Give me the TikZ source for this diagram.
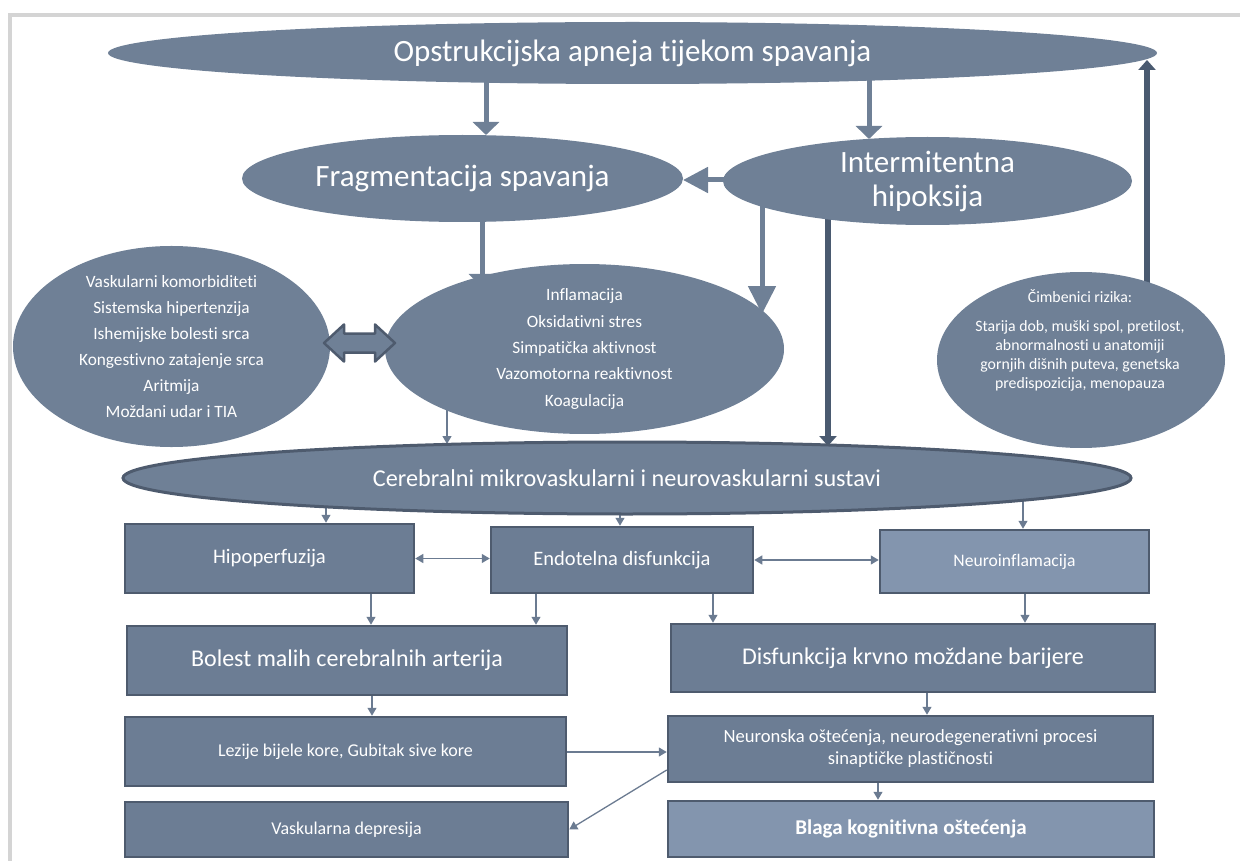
\documentclass[tikz,border=0pt]{standalone}
\usepackage{fontspec}
\setmainfont{Carlito}[Ligatures={NoCommon}]
\usetikzlibrary{arrows.meta,shapes.geometric,backgrounds}
\definecolor{ellC}{HTML}{6F8096}
\definecolor{boxC}{HTML}{6C7D94}
\definecolor{edgeC}{HTML}{4E5B6E}
\definecolor{lightC}{HTML}{8395AE}
\definecolor{darkC}{HTML}{4A5A70}
\definecolor{thinC}{HTML}{6B7B91}
\definecolor{frameC}{HTML}{D4D4D4}
\newcommand{\myfs}[2]{\fontsize{#1}{#2}\selectfont}
\begin{document}
\begin{tikzpicture}[x=1pt,y=-1pt,
  ell/.style={ellipse,fill=ellC,inner sep=0pt,text=white,align=center},
  box/.style={rectangle,fill=boxC,draw=edgeC,line width=2.5pt,inner sep=0pt,text=white,align=center},
  lbox/.style={box,fill=lightC},
  bigarr/.style={draw=ellC,line width=5pt,-{Triangle[width=26pt,length=13pt]}},
  bigarrl/.style={draw=ellC,line width=5pt,-{Triangle[width=27pt,length=28pt]}},
  bigarrh/.style={draw=ellC,line width=5pt,-{Triangle[width=25pt,length=25pt]}},
  darkarr/.style={draw=darkC,line width=5.5pt,-{Triangle[width=17pt,length=10pt]}},
  thin/.style={draw=thinC,line width=1.3pt,-{Triangle[width=9pt,length=8pt]}},
  dthin/.style={draw=thinC,line width=1.3pt,{Triangle[width=9pt,length=8pt]}-{Triangle[width=9pt,length=8pt]}},
  blockarr/.style={fill=ellC,draw=edgeC,line width=2.5pt,line join=round},
  frame/.style={draw=frameC,line width=4pt}
]
\useasboundingbox (0,0) rectangle (1240,861);

% ellipses
\node[ell,minimum width=1049pt,minimum height=62pt,font=\myfs{31}{36}] (top) at (632.5,53) {Opstrukcijska apneja tijekom spavanja};
\node[ell,minimum width=441pt,minimum height=87pt,font=\myfs{31}{36}] (frag) at (462.5,178.5) {Fragmentacija spavanja};
\node[ell,minimum width=409pt,minimum height=88pt,font=\myfs{31}{34}] (inter) at (927.5,181) {Intermitentna\\hipoksija};
\node[ell,minimum width=317pt,minimum height=173pt,font=\myfs{17.3}{26}] (left) at (171.5,346.5) {Vaskularni komorbiditeti\\Sistemska hipertenzija\\Ishemijske bolesti srca\\Kongestivno zatajenje srca\\Aritmija\\Moždani udar i TIA};
\node[ell,minimum width=399pt,minimum height=141pt,font=\myfs{17.3}{26.3}] (mid) at (584.5,349) {Inflamacija\\Oksidativni stres\\Simpatička aktivnost\\Vazomotorna reaktivnost\\Koagulacija};
\node[ell,minimum width=288pt,minimum height=176pt] (cim) at (1081,360) {};
\node[text=white,align=center,inner sep=0pt,font=\myfs{15.8}{18.7}] (cimt) at (1080,340) {Čimbenici rizika:\\[11pt]Starija dob, muški spol, pretilost,\\abnormalnosti u anatomiji\\gornjih dišnih puteva, genetska\\predispozicija, menopauza};
\node[ell,draw=edgeC,line width=3pt,minimum width=1008pt,minimum height=72pt,font=\myfs{24.2}{28}] (cer) at (627,478) {Cerebralni mikrovaskularni i neurovaskularni sustavi};

% boxes
\node[box,minimum width=289pt,minimum height=69pt,font=\myfs{20.7}{24}] (hipo) at (269.5,558.5) {Hipoperfuzija};
\node[box,minimum width=262pt,minimum height=66pt,font=\myfs{20.5}{24}] (endo) at (622,560) {Endotelna disfunkcija};
\node[lbox,minimum width=269pt,minimum height=63pt,font=\myfs{17.6}{21}] (neuro) at (1014.5,561.5) {Neuroinflamacija};
\node[box,minimum width=440pt,minimum height=69pt,font=\myfs{24}{28}] (bolest) at (347,660.5) {Bolest malih cerebralnih arterija};
\node[box,minimum width=484pt,minimum height=68pt,font=\myfs{24}{28}] (disf) at (913,658) {Disfunkcija krvno moždane barijere};
\node[box,minimum width=441pt,minimum height=69pt,font=\myfs{18}{22}] (lezije) at (345.5,751.5) {Lezije bijele kore, Gubitak sive kore};
\node[box,minimum width=485pt,minimum height=66pt,font=\myfs{18.6}{22}] (neuronska) at (910.5,749) {Neuronska oštećenja, neurodegenerativni procesi\\sinaptičke plastičnosti};
\node[box,minimum width=443pt,minimum height=55pt,font=\myfs{18}{22}] (vask) at (346.5,829.5) {Vaskularna depresija};
\node[lbox,minimum width=486pt,minimum height=56pt,font=\bfseries\myfs{21}{24}] (blaga) at (911,829) {Blaga kognitivna oštećenja};

% double block arrow between the ellipses
\coordinate (da) at (324,343);
\coordinate (db) at (395,343);
\draw[blockarr] (da) -- ++(20,-18.5) -- ++(0,9) -- ++(31,0) -- ++(0,-9) -- (db) -- ++(-20,18.5) -- ++(0,-9) -- ++(-31,0) -- ++(0,9) -- cycle;

% connector end points
\coordinate (t1) at (486,135);
\coordinate (t2) at (869,139);
\coordinate (t3) at (683,180);
\coordinate (t4) at (482,287);
\coordinate (t5) at (762,314);
\coordinate (t6) at (828,446);
\coordinate (t7) at (1147,60);
\coordinate (t8) at (447,444);
\coordinate (x326) at (326,0);
\coordinate (x620) at (620,0);
\coordinate (x1023) at (1023,0);
\coordinate (x371) at (371,0);
\coordinate (x536) at (536,0);
\coordinate (x713) at (713,0);
\coordinate (x1025) at (1025,0);
\coordinate (x372) at (372,0);
\coordinate (x927) at (927,0);
\coordinate (x878) at (878,0);
\coordinate (y752) at (0,752);

\begin{pgfonlayer}{background}
\draw[frame] (10,861) -- (10,15) -- (1240,15);
\draw[bigarr] (top.center -| t1) -- (t1);
\draw[bigarr] (top.center -| t2) -- (t2);
\draw[bigarrh] (inter.center |- t3) -- (t3);
\draw[bigarr] (frag.center -| t4) -- (t4);
\draw[bigarrl] (inter.center -| t5) -- (t5);
\draw[darkarr] (inter.center -| t6) -- (t6);
\draw[darkarr] (cim.center -| t7) -- (t7);
\draw[thin] (mid.center -| t8) -- (t8);
\draw[thin] (cer.center -| x326) -- (hipo.north -| x326);
\draw[thin] (cer.center -| x620) -- (endo.north -| x620);
\draw[thin] (cer.center -| x1023) -- (neuro.north -| x1023);
\draw[thin] (hipo.south -| x371) -- (bolest.north -| x371);
\draw[thin] (endo.south -| x536) -- (bolest.north -| x536);
\draw[thin] (endo.south -| x713) -- (disf.north -| x713);
\draw[thin] (neuro.south -| x1025) -- (disf.north -| x1025);
\draw[thin] (bolest.south -| x372) -- (lezije.north -| x372);
\draw[thin] (disf.south -| x927) -- (neuronska.north -| x927);
\draw[thin] (lezije.east |- y752) -- (neuronska.west |- y752);
\draw[thin] ([yshift=-21pt]neuronska.west) -- (vask.east);
\draw[thin] (neuronska.south -| x878) -- (blaga.north -| x878);
\draw[dthin] (hipo.east) -- (hipo.east -| endo.west);
\draw[dthin] (endo.east) -- (endo.east -| neuro.west);
\end{pgfonlayer}
\end{tikzpicture}
\end{document}
